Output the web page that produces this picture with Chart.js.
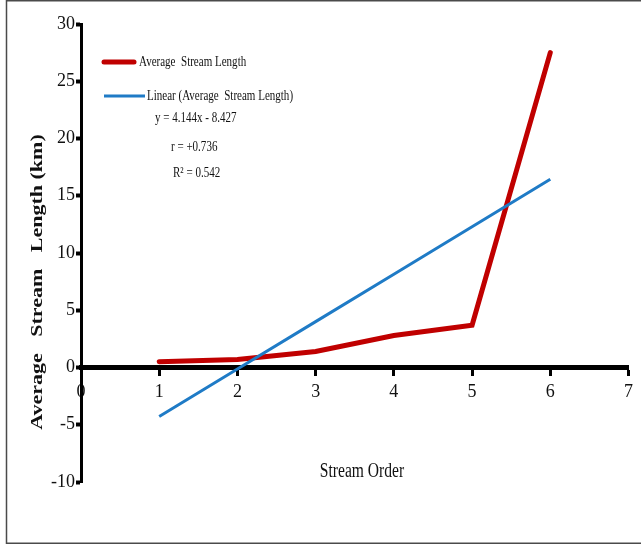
<!DOCTYPE html>
<html>
<head>
<meta charset="utf-8">
<title>Average Stream Length by Stream Order</title>
<script src="https://cdn.jsdelivr.net/npm/chart.js@4.4.1/dist/chart.umd.min.js"></script>
<style>
  html, body { margin: 0; padding: 0; background: #ffffff; }
  #wrap { position: relative; width: 641px; height: 548px; }
</style>
</head>
<body>
<div id="wrap"><canvas id="c" width="641" height="548"></canvas></div>
<script>
// Stream order (x) and measured average stream length in km (y)
const streamOrders = [1, 2, 3, 4, 5, 6];
const avgStreamLength = [0.5, 0.7, 1.4, 2.8, 3.7, 27.5];
// Linear trend y = 4.144x - 8.427 evaluated at each stream order
const trendLength = [-4.283, -0.139, 4.005, 8.149, 12.293, 16.437];

const xTicks = [0, 1, 2, 3, 4, 5, 6, 7];
const yTicks = [-10, -5, 0, 5, 10, 15, 20, 25, 30];

const legendLabels = ['Average  Stream Length', 'Linear (Average  Stream Length)'];
const statLines = ['y = 4.144x - 8.427', 'r = +0.736', 'R\u00B2 = 0.542'];
const xTitle = 'Stream Order';
const yTitle = 'Average   Stream   Length (km)';

const RED = '#c00000';
const BLUE = '#1f7bc6';
const SERIF = '"Liberation Serif", "Times New Roman", serif';
const NARROW = 0.76; // horizontal compression of the serif lettering

function narrowText(ctx, text, x, y, font, align) {
  ctx.save();
  ctx.font = font;
  ctx.fillStyle = '#111';
  ctx.textAlign = align;
  ctx.textBaseline = 'alphabetic';
  ctx.translate(x, y);
  ctx.scale(NARROW, 1);
  ctx.fillText(text, 0, 0);
  ctx.restore();
}

// Thin frame around the whole figure
const framePlugin = {
  id: 'frame',
  beforeDraw(chart) {
    const ctx = chart.ctx;
    ctx.save();
    ctx.fillStyle = '#ffffff';
    ctx.fillRect(0, 0, chart.width, chart.height);
    ctx.strokeStyle = '#4a4a4a';
    ctx.lineWidth = 1.5;
    ctx.strokeRect(6.5, 0.75, chart.width + 10, 542.5);
    ctx.restore();
  }
};

// In-plot legend, regression statistics and axis titles
const notesPlugin = {
  id: 'notes',
  afterDraw(chart) {
    const ctx = chart.ctx;
    const a = chart.chartArea;
    const small = '14.5px ' + SERIF;

    ctx.save();
    ctx.lineCap = 'round';
    ctx.strokeStyle = RED;
    ctx.lineWidth = 5;
    ctx.beginPath();
    ctx.moveTo(a.left + 23, a.top + 38);
    ctx.lineTo(a.left + 53, a.top + 38);
    ctx.stroke();
    ctx.strokeStyle = BLUE;
    ctx.lineWidth = 3;
    ctx.lineCap = 'butt';
    ctx.beginPath();
    ctx.moveTo(a.left + 23, a.top + 72);
    ctx.lineTo(a.left + 64, a.top + 72);
    ctx.stroke();
    ctx.restore();

    narrowText(ctx, legendLabels[0], a.left + 58, a.top + 42, small, 'left');
    narrowText(ctx, legendLabels[1], a.left + 66, a.top + 76, small, 'left');
    narrowText(ctx, statLines[0], a.left + 74, a.top + 98, small, 'left');
    narrowText(ctx, statLines[1], a.left + 90, a.top + 127, small, 'left');
    narrowText(ctx, statLines[2], a.left + 92, a.top + 153, small, 'left');

    // x-axis title
    narrowText(ctx, xTitle, a.left + 281, a.bottom - 5, '20.5px ' + SERIF, 'center');

    // y-axis title, rotated
    ctx.save();
    ctx.font = 'bold 22px ' + SERIF;
    ctx.fillStyle = '#111';
    ctx.textAlign = 'center';
    ctx.textBaseline = 'middle';
    ctx.translate(a.left - 43, (a.top + a.bottom) / 2 + 29);
    ctx.rotate(-Math.PI / 2);
    ctx.scale(1, NARROW);
    ctx.fillText(yTitle, 0, 0);
    ctx.restore();
  }
};

const toPoints = (ys) => streamOrders.map((x, i) => ({ x: x, y: ys[i] }));

new Chart(document.getElementById('c'), {
  type: 'line',
  data: {
    datasets: [
      {
        label: legendLabels[0],
        data: toPoints(avgStreamLength),
        borderColor: RED,
        backgroundColor: RED,
        borderWidth: 5,
        borderCapStyle: 'round',
        pointRadius: 0,
        tension: 0,
        order: 1
      },
      {
        label: legendLabels[1],
        data: toPoints(trendLength),
        borderColor: BLUE,
        backgroundColor: BLUE,
        borderWidth: 3,
        pointRadius: 0,
        tension: 0,
        order: 0
      }
    ]
  },
  options: {
    responsive: false,
    animation: false,
    devicePixelRatio: 1,
    layout: { padding: { left: 0, top: 24, right: 11, bottom: 66 } },
    plugins: {
      legend: { display: false },
      tooltip: { enabled: false }
    },
    scales: {
      x: {
        type: 'linear',
        min: 0,
        max: 7,
        position: { y: 0 },
        afterFit(scale) { scale.height = 0; },
        afterBuildTicks(scale) { scale.ticks = xTicks.map(v => ({ value: v })); },
        grid: {
          display: true,
          drawOnChartArea: false,
          drawTicks: true,
          tickLength: 6,
          tickWidth: 3,
          tickColor: '#000'
        },
        border: { display: true, width: 5, color: '#000' },
        ticks: {
          font: { family: SERIF, size: 18 },
          color: '#111',
          padding: 8,
          maxRotation: 0,
          autoSkip: false
        }
      },
      y: {
        type: 'linear',
        min: -10,
        max: 30,
        afterFit(scale) { scale.width = 81; },
        afterBuildTicks(scale) { scale.ticks = yTicks.map(v => ({ value: v })); },
        grid: {
          display: true,
          drawOnChartArea: false,
          drawTicks: true,
          tickLength: 5,
          tickWidth: 4,
          tickColor: '#000'
        },
        border: { display: true, width: 3, color: '#000' },
        ticks: {
          font: { family: SERIF, size: 18 },
          color: '#111',
          padding: 1,
          autoSkip: false
        }
      }
    }
  },
  plugins: [framePlugin, notesPlugin]
});
</script>
</body>
</html>
